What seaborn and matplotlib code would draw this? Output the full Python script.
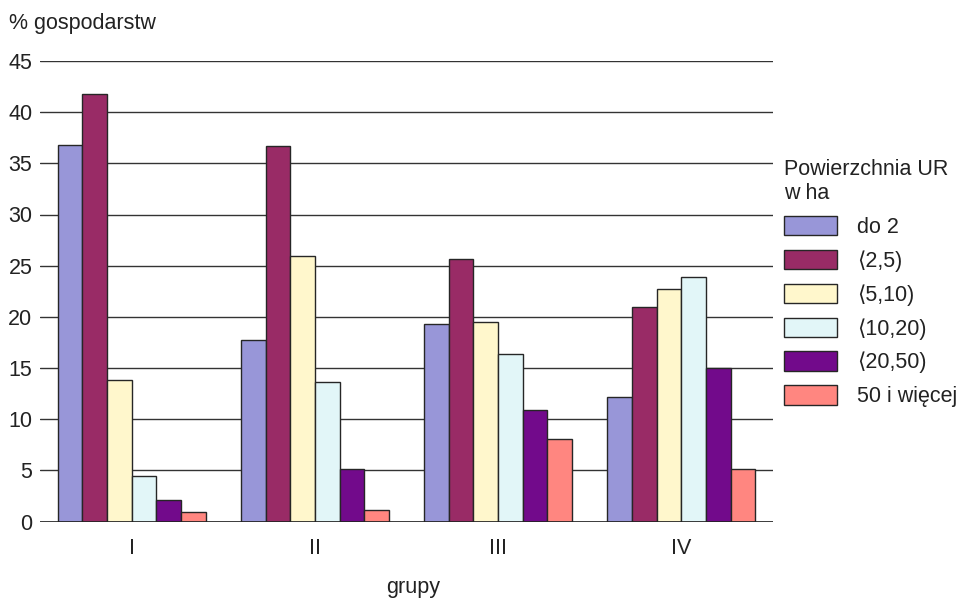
import pandas as pd
import matplotlib
matplotlib.use("Agg")
import matplotlib.pyplot as plt
import seaborn as sns
from matplotlib.patches import Patch

# data
groups = ["I", "II", "III", "IV"]
sizes = ["do 2", "⟨2,5)", "⟨5,10)", "⟨10,20)", "⟨20,50)", "50 i więcej"]
do_2 = [36.8, 17.7, 19.3, 12.2]
s_2_5 = [41.8, 36.7, 25.7, 21.0]
s_5_10 = [13.8, 25.9, 19.5, 22.7]
s_10_20 = [4.4, 13.6, 16.4, 23.9]
s_20_50 = [2.1, 5.1, 10.9, 15.0]
s_50 = [0.9, 1.1, 8.1, 5.1]

colors = ["#9896d8", "#992b66", "#fff7cc", "#e2f6f8", "#720a8b", "#ff8680"]

series = [do_2, s_2_5, s_5_10, s_10_20, s_20_50, s_50]
rows = []
for size, vals in zip(sizes, series):
    for g, v in zip(groups, vals):
        rows.append({"grupa": g, "pow": size, "val": v})
df = pd.DataFrame(rows)

sns.set_style("white")
plt.rcParams["font.family"] = ["Liberation Sans", "DejaVu Sans"]
FS = 15.5
txt = "#222222"

fig = plt.figure(figsize=(9.62, 5.99), dpi=100)
ax = fig.add_axes([40 / 962, 1 - 521.5 / 599, 733 / 962, 460.5 / 599])

sns.barplot(data=df, x="grupa", y="val", hue="pow", hue_order=sizes,
            palette=colors, width=0.807, gap=0, edgecolor="#262626",
            linewidth=1.0, saturation=1, ax=ax, legend=False)

ax.set_xlim(-0.5, 3.5)
ax.set_ylim(0, 45)
ax.set_yticks(range(0, 46, 5))
ax.yaxis.grid(True, color="#333333", linewidth=1)
ax.set_axisbelow(True)
for s in ["top", "right", "left", "bottom"]:
    ax.spines[s].set_visible(False)
ax.axhline(0, color="#222222", linewidth=1.2)
ax.tick_params(axis="y", length=0, pad=5.5, labelsize=FS, colors=txt)
ax.tick_params(axis="x", length=0, pad=12, labelsize=FS, colors=txt)
ax.set_xlabel("grupy", fontsize=FS, color=txt, va="baseline")
ax.xaxis.set_label_coords((413 - 40) / 733, (521.5 - 593) / 460.5)
ax.set_ylabel("")
fig.text(9 / 962, 1 - 23 / 599, "% gospodarstw", fontsize=FS,
         va="center", ha="left", color=txt)

handles = [Patch(facecolor=c, edgecolor="#262626", linewidth=1) for c in colors]
leg = ax.legend(handles, sizes, title="Powierzchnia UR\nw ha",
                loc="upper left", bbox_to_anchor=(784 / 962, 1 - 159 / 599),
                bbox_transform=fig.transFigure, frameon=False,
                fontsize=FS, title_fontsize=FS, handlelength=2.46,
                handleheight=1.0, handletextpad=0.93, labelspacing=0.55,
                borderpad=0, borderaxespad=0)
leg._legend_box.align = "left"
for t in leg.get_texts():
    t.set_color(txt)
leg.get_title().set_color(txt)

fig.savefig("out.png", dpi=100)
